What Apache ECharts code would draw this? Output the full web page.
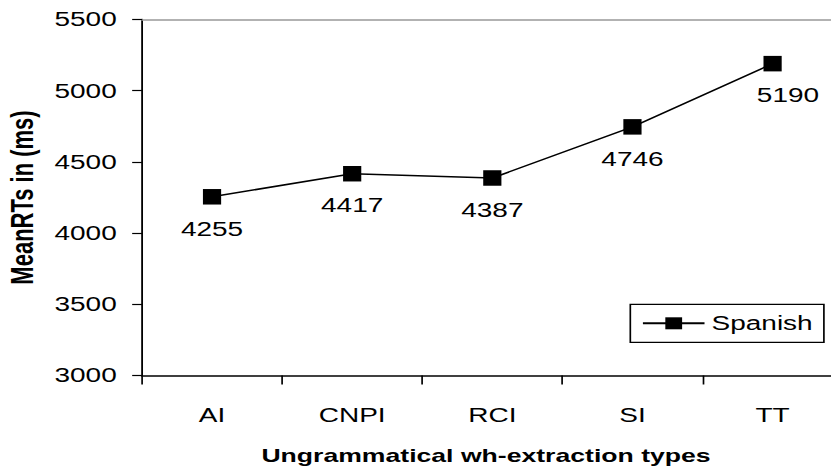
<!DOCTYPE html>
<html>
<head>
<meta charset="utf-8">
<script src="https://cdn.jsdelivr.net/npm/echarts@6/dist/echarts.min.js"></script>
<style>
  html, body { margin: 0; padding: 0; background: #fff; overflow: hidden; }
  #chart { width: 593.57px; height: 469px; transform: scaleX(1.4); transform-origin: 0 0; }
</style>
</head>
<body>
<div id="chart"></div>
<script>
const categories = ["AI", "CNPI", "RCI", "SI", "TT"];
const spanish = [4255, 4417, 4387, 4746, 5190];
const seriesName = "Spanish";
const yMin = 3000, yMax = 5500, yStep = 500;
const xTitle = "Ungrammatical wh-extraction types";
const yTitle = "MeanRTs in (ms)";

const FONT = '"Liberation Sans", Arial, sans-serif';
const chart = echarts.init(document.getElementById('chart'), null, { renderer: 'svg' });
chart.setOption({
  animation: false,
  backgroundColor: '#fff',
  textStyle: { fontFamily: FONT, color: '#000' },
  grid: { left: 101.4, right: -7.9, top: 19.5, bottom: 93.5, containLabel: false, outerBoundsMode: 'none' },
  legend: {
    data: [seriesName],
    right: 5.5, top: 304.3,
    orient: 'horizontal',
    itemWidth: 44, itemHeight: 15, itemGap: 7,
    padding: [9, 8, 9, 8],
    borderColor: '#000', borderWidth: 1.2,
    textStyle: { fontFamily: FONT, fontSize: 20, color: '#000' }
  },
  xAxis: [{
    type: 'category',
    data: categories,
    boundaryGap: true,
    axisLine: { show: true, lineStyle: { color: '#000', width: 1.6 } },
    axisTick: { show: true, inside: false, length: 9, lineStyle: { color: '#000', width: 1.2 } },
    axisLabel: { fontFamily: FONT, fontSize: 20, color: '#000', margin: 30 },
    splitLine: { show: false },
    name: xTitle,
    nameLocation: 'middle',
    nameGap: 70,
    nameTextStyle: { fontFamily: FONT, fontSize: 19, fontWeight: 'bold', color: '#000', padding: [0, 9, 0, 0] }
  }, {
    type: 'category',
    data: categories,
    position: 'top',
    axisLine: { show: true, lineStyle: { color: '#999', width: 1.6 } },
    axisTick: { show: false },
    axisLabel: { show: false },
    splitLine: { show: false }
  }],
  yAxis: {
    type: 'value',
    min: yMin, max: yMax, interval: yStep,
    axisLine: { show: true, lineStyle: { color: '#000', width: 1.3 } },
    axisTick: { show: true, inside: false, length: 7, lineStyle: { color: '#000', width: 1.2 } },
    axisLabel: { fontFamily: FONT, fontSize: 20, color: '#000', margin: 18, formatter: v => String(v) },
    splitLine: { show: false },
    name: yTitle,
    nameLocation: 'middle',
    nameGap: 74,
    nameRotate: 90,
    nameTextStyle: { fontFamily: FONT, fontSize: 22, fontWeight: 'bold', color: '#000' }
  },
  series: [{
    name: seriesName,
    type: 'line',
    data: spanish.map((v, i) => i === spanish.length - 1 ? { value: v, label: { offset: [11, 0] } } : v),
    symbol: 'rect',
    symbolSize: [13, 15.5],
    itemStyle: { color: '#000' },
    lineStyle: { color: '#000', width: 1.5 },
    label: { show: true, position: 'bottom', distance: 14, fontFamily: FONT, fontSize: 20, color: '#000' }
  }]
});
</script>
</body>
</html>
